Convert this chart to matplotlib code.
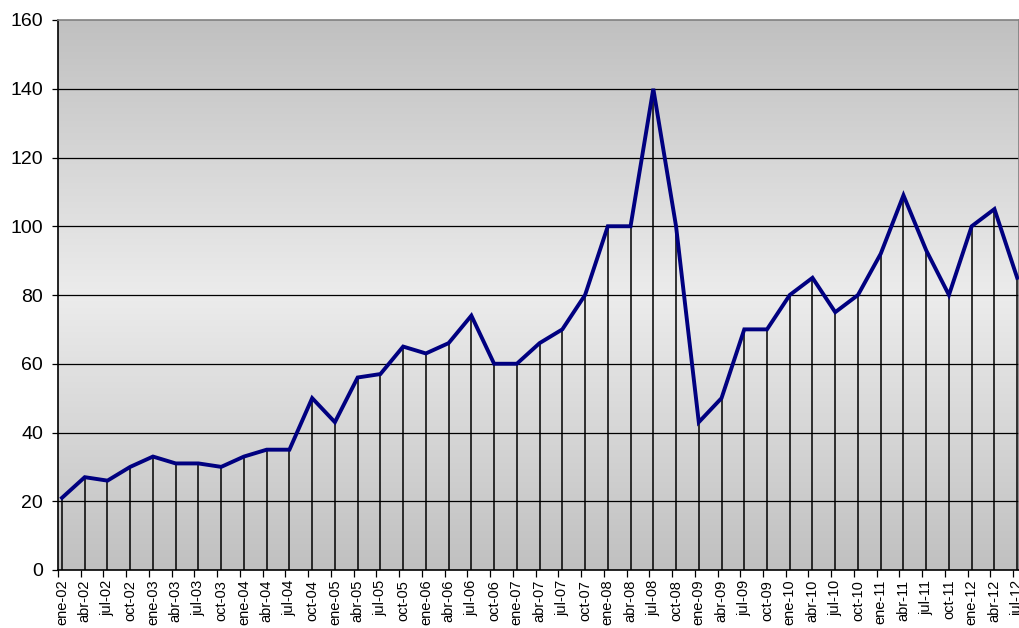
import numpy as np
import matplotlib
matplotlib.use('Agg')
from matplotlib import pyplot as plt
from matplotlib.colors import LinearSegmentedColormap

labels = ['ene-02', 'abr-02', 'jul-02', 'oct-02', 'ene-03', 'abr-03', 'jul-03', 'oct-03',
          'ene-04', 'abr-04', 'jul-04', 'oct-04', 'ene-05', 'abr-05', 'jul-05', 'oct-05',
          'ene-06', 'abr-06', 'jul-06', 'oct-06', 'ene-07', 'abr-07', 'jul-07', 'oct-07',
          'ene-08', 'abr-08', 'jul-08', 'oct-08', 'ene-09', 'abr-09', 'jul-09', 'oct-09',
          'ene-10', 'abr-10', 'jul-10', 'oct-10', 'ene-11', 'abr-11', 'jul-11', 'oct-11',
          'ene-12', 'abr-12', 'jul-12']
values = [21, 27, 26, 30, 33, 31, 31, 30,
          33, 35, 35, 50, 43, 56, 57, 65,
          63, 66, 74, 60, 60, 66, 70, 80,
          100, 100, 140, 100, 43, 50, 70, 70,
          80, 85, 75, 80, 92, 109, 93, 80,
          100, 105, 85]
yticks = [0, 20, 40, 60, 80, 100, 120, 140, 160]

plt.rcParams['font.family'] = ['Liberation Sans', 'DejaVu Sans']

fig = plt.figure(figsize=(10.2, 6.28), dpi=100)
ax = fig.add_axes([58 / 1020, 1 - 570 / 628, (1019 - 58) / 1020, 550 / 628])

x = np.arange(len(values))
xmin, xmax = -0.176, 42.08

# vertical gradient background: gray - light - gray
cmap = LinearSegmentedColormap.from_list('bg', ['#c0c0c0', '#ececec', '#c0c0c0'])
grad = np.linspace(0, 1, 256).reshape(-1, 1)
ax.imshow(grad, cmap=cmap, aspect='auto', extent=[xmin, xmax, 0, 160], zorder=0)

for t in yticks[1:-1]:
    ax.axhline(t, color='black', lw=0.9, zorder=1)
ax.vlines(x, 0, values, color='black', lw=1.1, zorder=2)
ax.plot(x, values, color='#000080', lw=2.8, solid_joinstyle='miter', zorder=3)

ax.set_xlim(xmin, xmax)
ax.set_ylim(0, 160)
ax.set_yticks(yticks)
ax.tick_params(axis='y', labelsize=14, length=4.3, width=0.9, pad=6.5)

ax.set_xticks(x)
ax.set_xticklabels(labels, rotation=90, fontsize=10.5)
ax.tick_params(axis='x', which='major', length=0, pad=7)
ax.set_xticks(x + xmin, minor=True)
ax.tick_params(axis='x', which='minor', length=5, width=0.9)

ax.spines['left'].set_color('black')
ax.spines['bottom'].set_color('black')
ax.spines['top'].set_color('#808080')
ax.spines['right'].set_color('#808080')
for s in ax.spines.values():
    s.set_linewidth(1.2)

fig.savefig('out.png', dpi=100)
